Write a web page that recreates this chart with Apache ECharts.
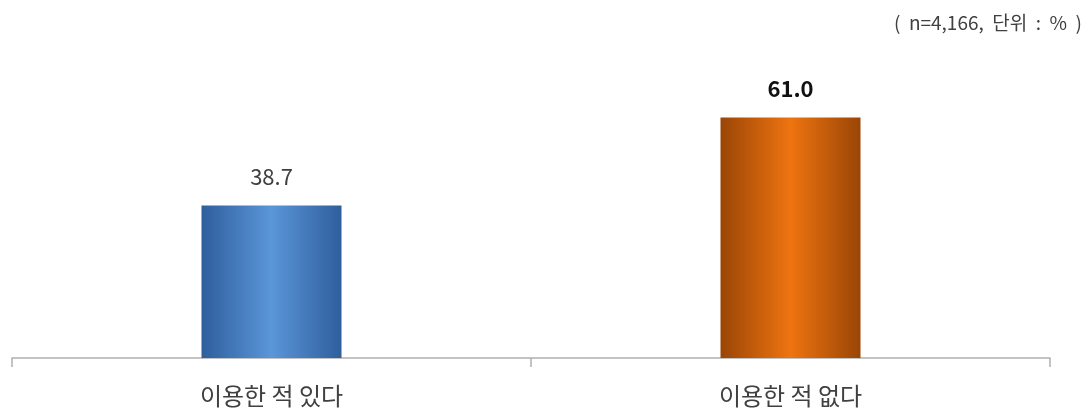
<!DOCTYPE html>
<html><head><meta charset="utf-8">
<script src="https://cdn.jsdelivr.net/npm/echarts@6/dist/echarts.min.js"></script>
<style>html,body{margin:0;padding:0;background:#fff}#c{width:1091px;height:412px}</style>
</head><body><div id="c"></div>
<script>
const categories = ['이용한 적 있다', '이용한 적 없다'];
const values = [38.7, 61.0];
const note = '(  n=4,166,  단위  :  %  )';

const font = '"Noto Sans CJK KR", "Malgun Gothic", sans-serif';
function grad(dark, light) {
  return new echarts.graphic.LinearGradient(0, 0, 1, 0, [
    {offset: 0, color: dark}, {offset: 0.5, color: light}, {offset: 1, color: dark}
  ]);
}
const styles = [
  {color: grad('#2f5e9c', '#5a96d8'), label: {color: '#404040', fontWeight: 'normal'}},
  {color: grad('#9a4506', '#ee7410'), label: {color: '#111', fontWeight: 'bold'}}
];
const chart = echarts.init(document.getElementById('c'));
chart.setOption({
  animation: false,
  title: {text: note, right: 4, top: 8, textStyle: {fontFamily: font, fontSize: 19, fontWeight: 'normal', color: '#404040'}},
  grid: {left: 12, right: 41, top: 82, bottom: 54, containLabel: false},
  xAxis: {
    type: 'category', data: categories,
    axisLine: {lineStyle: {color: '#b0b0b0', width: 1.5}},
    axisTick: {show: true, length: 9, lineStyle: {color: '#b0b0b0', width: 1.5}},
    axisLabel: {fontFamily: font, fontSize: 24, color: '#404040', margin: 26}
  },
  yAxis: {type: 'value', min: 0, max: 70, show: false, splitLine: {show: false}},
  series: [{
    type: 'bar', barWidth: 140,
    data: values.map((v, i) => ({
      value: v,
      itemStyle: {color: styles[i].color},
      label: {show: true, position: 'top', distance: 18, fontFamily: font, fontSize: 22,
        color: styles[i].label.color, fontWeight: styles[i].label.fontWeight,
        formatter: p => p.value.toFixed(1)}
    }))
  }]
});
</script></body></html>
